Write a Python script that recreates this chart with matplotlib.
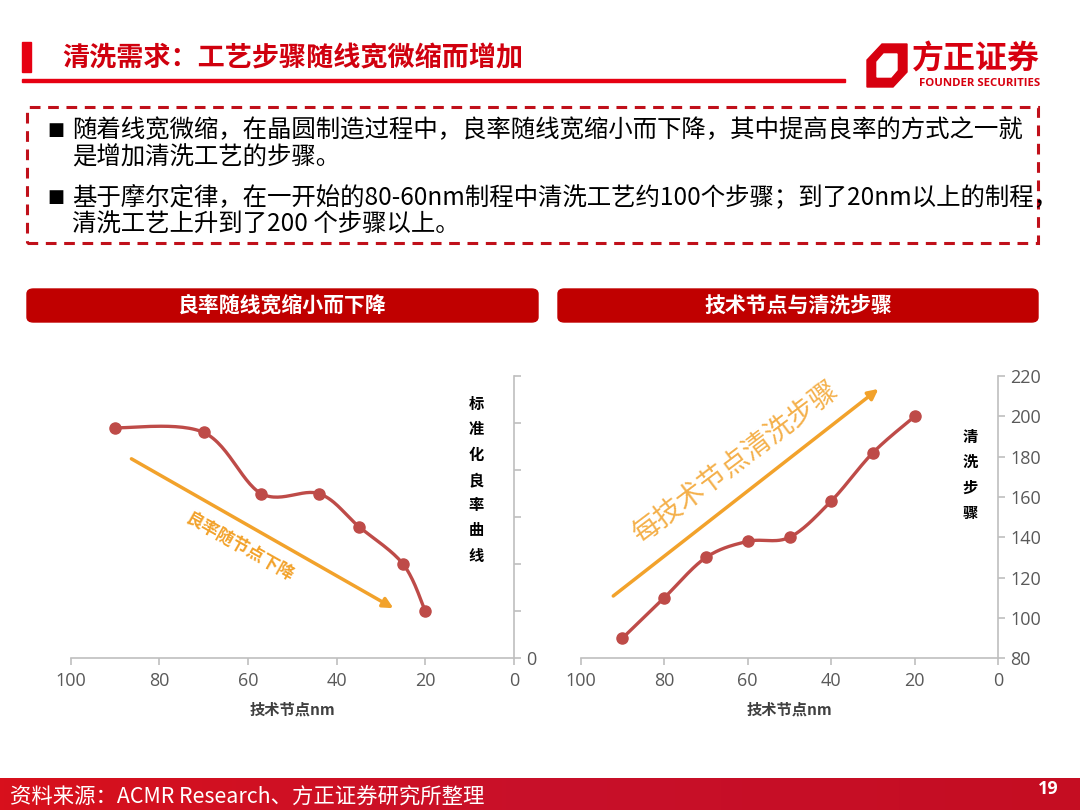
import matplotlib
matplotlib.use("Agg")
import matplotlib.pyplot as plt
from matplotlib.patches import Rectangle, FancyBboxPatch, Polygon
from matplotlib.colors import LinearSegmentedColormap
import numpy as np

plt.rcParams['font.family'] = ['Noto Sans CJK SC', 'DejaVu Sans']

# 数据：良率随线宽缩小而下降（标准化）
yield_nodes = [90, 70, 57, 44, 35, 25, 20]
yield_values = [0.98, 0.96, 0.70, 0.70, 0.56, 0.40, 0.20]

# 数据：技术节点与清洗步骤
step_nodes = [90, 80, 70, 60, 50, 40, 30, 20]
step_values = [90, 110, 130, 138, 140, 158, 182, 200]

x_ticks = [100, 80, 60, 40, 20, 0]
left_yticks = [0, 0.2, 0.4, 0.6, 0.8, 1.0, 1.2]
right_yticks = [80, 100, 120, 140, 160, 180, 200, 220]

title = "清洗需求：工艺步骤随线宽微缩而增加"
bullet_lines = [
    "随着线宽微缩，在晶圆制造过程中，良率随线宽缩小而下降，其中提高良率的方式之一就",
    "是增加清洗工艺的步骤。",
    "基于摩尔定律，在一开始的80-60nm制程中清洗工艺约100个步骤；到了20nm以上的制程，",
    "清洗工艺上升到了200 个步骤以上。",
]
left_header = "良率随线宽缩小而下降"
right_header = "技术节点与清洗步骤"
source = "资料来源：ACMR Research、方正证券研究所整理"

RED = "#C00000"
LINE = "#BE4B48"
ORANGE = "#F2A22B"
AXIS = "#BFBFBF"
TICK = "#595959"

W, H = 1080, 810
fig = plt.figure(figsize=(10.8, 8.1), dpi=100)


def px(x, y):
    return x / W, 1 - y / H


def smooth(xs, ys, n=30):
    # Catmull-Rom 样条，类似 Excel 的平滑线
    p = np.column_stack([xs, ys]).astype(float)
    p = np.vstack([p[0], p, p[-1]])
    out = []
    t = np.linspace(0, 1, n)
    for i in range(1, len(p) - 2):
        p0, p1, p2, p3 = p[i - 1], p[i], p[i + 1], p[i + 2]
        c1 = p1 + (p2 - p0) / 6
        c2 = p2 - (p3 - p1) / 6
        seg = ((1 - t) ** 3)[:, None] * p1 + (3 * (1 - t) ** 2 * t)[:, None] * c1 \
            + (3 * (1 - t) * t ** 2)[:, None] * c2 + (t ** 3)[:, None] * p2
        out.append(seg)
    s = np.vstack(out)
    return s[:, 0], s[:, 1]


# ---- 页眉 ----
fig.patches.append(Rectangle(px(22, 72), 9 / W, 30 / H, transform=fig.transFigure,
                             color="#E60012"))
fig.text(*px(62, 58), title, fontsize=19.5, fontweight="bold", color="#D0000E",
         va="center", ha="left")
fig.patches.append(Rectangle(px(22, 82), (845 - 22) / W, 3 / H, transform=fig.transFigure,
                             color="#E60012"))

# 方正证券 logo
outer = [px(867, 60), px(882, 44), px(907, 44), px(907, 72), px(893, 87), px(867, 87)]
inner = [px(877, 62), px(884, 54), px(897, 54), px(897, 70), px(891, 77), px(877, 77)]
fig.patches.append(Polygon(outer, closed=True, transform=fig.transFigure, color="#D7000F"))
fig.patches.append(Polygon(inner, closed=True, transform=fig.transFigure, color="white"))
fig.text(*px(912, 60), "方正证券", fontsize=23, fontweight="bold", color="#D7000F",
         va="center", ha="left")
fig.text(*px(1040, 84), "FOUNDER SECURITIES", fontsize=8.2, fontweight="bold",
         color="#D7000F", va="center", ha="right", family=["Open Sans", "DejaVu Sans"])

# 虚线框
fig.patches.append(Rectangle(px(27, 243), (1038 - 27) / W, (243 - 107) / H,
                             transform=fig.transFigure, fill=False, edgecolor="#C0101A",
                             linewidth=2.2, linestyle=(0, (3.5, 2.5))))
line_y = [130, 157, 197, 225]
for i, (txt, yy) in enumerate(zip(bullet_lines, line_y)):
    if i in (0, 2):
        fig.text(*px(47, yy), "■", fontsize=13, color="black", va="center", ha="left",
                 family=["DejaVu Sans"])
    fig.text(*px(72, yy), txt, fontsize=17.6, color="black", va="center", ha="left")

# 小标题栏
for x0, x1, txt in [(27, 538, left_header), (558, 1038, right_header)]:
    fig.patches.append(FancyBboxPatch(px(x0, 322), (x1 - x0) / W, 33 / H,
                                      boxstyle="round,pad=0,rounding_size=0.006",
                                      transform=fig.transFigure, color=RED))
    fig.text(*px((x0 + x1) / 2, 305), txt, fontsize=15, fontweight="bold",
             color="white", va="center", ha="center")

# ---- 左图 ----
ax1 = fig.add_axes([px(70.7, 0)[0], 1 - 658.3 / H, (514 - 70.7) / W, (658.3 - 376) / H])
sx, sy = smooth(yield_nodes, yield_values)
ax1.plot(sx, sy, color=LINE, lw=2.4, solid_capstyle="round", zorder=3)
ax1.plot(yield_nodes, yield_values, "o", color=LINE, ms=8, zorder=4)
ax1.set_xlim(100, 0)
ax1.set_ylim(0, 1.2)
ax1.set_xticks(x_ticks)
ax1.set_yticks(left_yticks)
ax1.set_yticklabels(["0"] + [""] * (len(left_yticks) - 1))
ax1.yaxis.tick_right()
ax1.set_xlabel("技术节点nm", fontsize=11, fontweight="bold", color="#404040", labelpad=8)

ax1.annotate("", xy=(27.2, 0.213), xytext=(86.3, 0.848),
             arrowprops=dict(arrowstyle="-|>,head_length=0.6,head_width=0.3",
                             color=ORANGE, lw=2.5, shrinkA=0, shrinkB=0))
ax1.text(61.9, 0.474, "良率随节点下降", rotation=-29.5, fontsize=12.5, fontweight="bold",
         color=ORANGE, ha="center", va="center")
for k, ch in enumerate("标准化良率曲线"):
    fig.text(*px(476, 404 + k * 25.3), ch, fontsize=11, fontweight="bold",
             color="black", ha="center", va="center")

# ---- 右图 ----
ax2 = fig.add_axes([580.7 / W, 1 - 658.3 / H, (998.3 - 580.7) / W, (658.3 - 376) / H])
sx, sy = smooth(step_nodes, step_values)
ax2.plot(sx, sy, color=LINE, lw=2.4, solid_capstyle="round", zorder=3)
ax2.plot(step_nodes, step_values, "o", color=LINE, ms=8, zorder=4)
ax2.set_xlim(100, 0)
ax2.set_ylim(80, 220)
ax2.set_xticks(x_ticks)
ax2.set_yticks(right_yticks)
ax2.yaxis.tick_right()
ax2.set_xlabel("技术节点nm", fontsize=11, fontweight="bold", color="#404040", labelpad=8)

ax2.annotate("", xy=(28.7, 213.6), xytext=(92.2, 110.9),
             arrowprops=dict(arrowstyle="-|>,head_length=0.6,head_width=0.3",
                             color=ORANGE, lw=2.5, shrinkA=0, shrinkB=0))
ax2.text(62.6, 176.9, "每技术节点清洗步骤", rotation=37, fontsize=20,
         color=ORANGE, ha="center", va="center", alpha=0.85)
for k, ch in enumerate("清洗步骤"):
    fig.text(*px(970, 437 + k * 25.3), ch, fontsize=11, fontweight="bold",
             color="black", ha="center", va="center")

for ax in (ax1, ax2):
    for s in ("left", "top"):
        ax.spines[s].set_visible(False)
    for s in ("right", "bottom"):
        ax.spines[s].set_color(AXIS)
        ax.spines[s].set_linewidth(1.2)
    ax.tick_params(colors=AXIS, labelcolor=TICK, labelsize=13, length=5, width=1.2)
    ax.tick_params(axis="x", pad=5)
    for lab in ax.get_xticklabels() + ax.get_yticklabels():
        lab.set_family(["Open Sans", "DejaVu Sans"])
    ax.set_facecolor("none")
    ax.xaxis.label.set_family(["Noto Sans CJK SC", "DejaVu Sans"])

# ---- 页脚 ----
axf = fig.add_axes([0, 0, 1, 32 / H])
grad = np.linspace(0, 1, 256)[None, :]
cmap = LinearSegmentedColormap.from_list("f", ["#D8101C", "#C8102A", "#C50D22"])
axf.imshow(grad, aspect="auto", cmap=cmap, extent=[0, 1, 0, 1])
axf.axis("off")
fig.text(*px(10, 797), source, fontsize=15.4, color="white", va="center", ha="left")
fig.text(*px(1048, 789), "19", fontsize=13, fontweight="bold", color="white",
         va="center", ha="center", family=["Open Sans", "DejaVu Sans"])

fig.savefig("out.png", dpi=100)
